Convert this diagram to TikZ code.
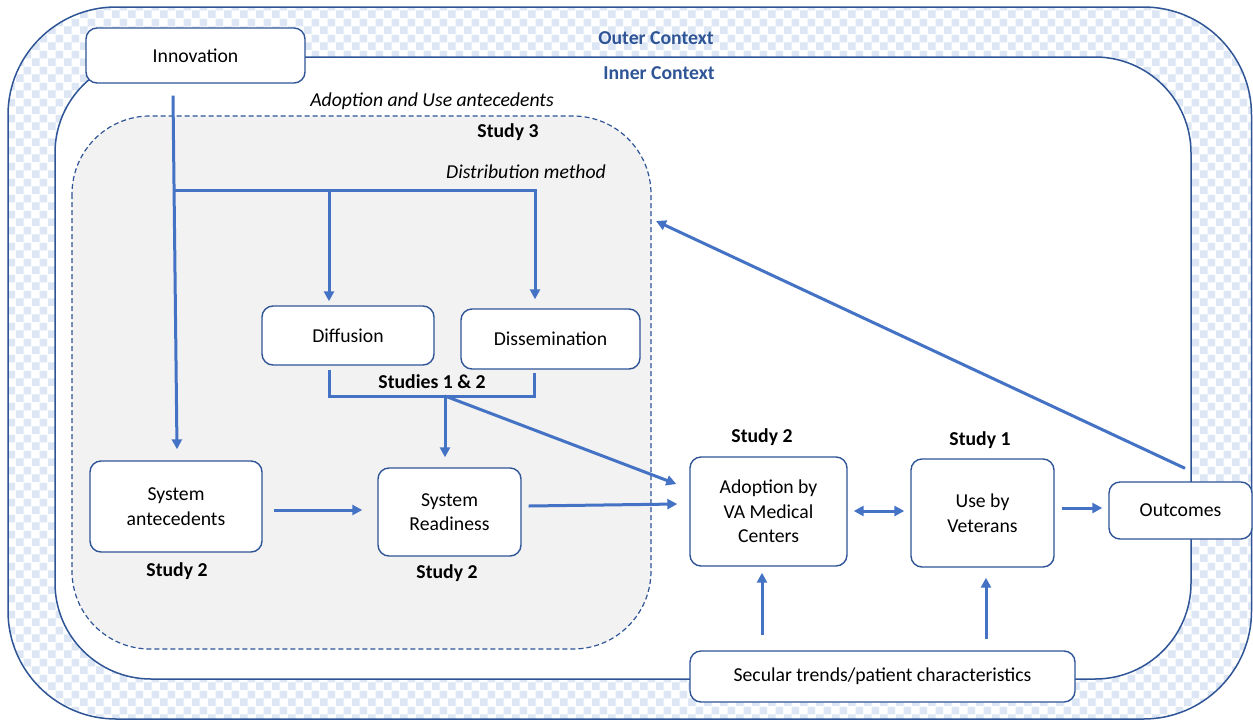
\documentclass[tikz,border=0pt]{standalone}
\usepackage{fontspec}
\setmainfont{Carlito}
\usetikzlibrary{arrows.meta,patterns.meta}
\definecolor{lineblue}{HTML}{4472C4}
\definecolor{boxblue}{HTML}{2F5597}
\definecolor{checkblue}{HTML}{DCE6F4}
\definecolor{grayfill}{HTML}{F2F2F2}
\tikzdeclarepattern{
  name=mychecks,
  type=uncolored,
  bottom left={(0pt,0pt)},
  top right={(16pt,16pt)},
  tile size={(16pt,16pt)},
  code={
    \fill (0pt,0pt) rectangle (8pt,8pt);
    \fill (8pt,8pt) rectangle (16pt,16pt);
  }
}
\begin{document}
\begin{tikzpicture}[x=1pt,y=-1pt,
  font=\fontsize{19.7}{24.5}\selectfont,
  box/.style={draw=boxblue, line width=1.4pt, fill=white, rounded corners=11pt, align=center, inner sep=0pt},
  conn/.style={draw=lineblue, line width=3pt},
  arr/.style={conn, -{Triangle[length=10pt,width=10pt]}},
  darr/.style={conn, {Triangle[length=10pt,width=10pt]}-{Triangle[length=10pt,width=10pt]}},
  lbl/.style={font=\fontsize{19.7}{24.5}\selectfont\bfseries, inner sep=0pt},
  ilbl/.style={font=\fontsize{19.7}{24.5}\selectfont\itshape, inner sep=0pt},
  ctx/.style={font=\fontsize{19.7}{24.5}\selectfont\bfseries, text=boxblue, inner sep=0pt}
]
\useasboundingbox (0,0) rectangle (1253,721);
\fill[white] (0,0) rectangle (1253,721);
% outer context
\fill[white, rounded corners=108pt] (8,7) rectangle (1251.5,719);
\fill[pattern=mychecks, pattern color=checkblue, rounded corners=108pt] (8,7) rectangle (1251.5,719);
\draw[boxblue, line width=1.5pt, rounded corners=108pt] (8,7) rectangle (1251.5,719);
% inner context
\filldraw[fill=white, draw=boxblue, line width=1.5pt, rounded corners=96pt] (55,57) rectangle (1191,679);
% study 3 region
\filldraw[fill=grayfill, draw=boxblue, line width=1.2pt, dash pattern=on 5pt off 3pt, rounded corners=78pt] (72,116) rectangle (651,649);

% labels
\node[ctx] (outerlbl) at (656,38) {Outer Context};
\node[ctx] (innerlbl) at (659,73) {Inner Context};
\node[ilbl] (adlbl) at (432,101) {Adoption and Use antecedents};
\node[lbl] (s3) at (508,132) {Study 3};
\node[ilbl] (distlbl) at (526,172) {Distribution method};

% boxes
\node[box, minimum width=219pt, minimum height=55pt] (inno) at (195.5,55.5) {Innovation};
\node[box, minimum width=172pt, minimum height=59pt] (diff) at (348,335.5) {Diffusion};
\node[box, minimum width=179pt, minimum height=60pt] (diss) at (550.5,339) {Dissemination};
\node[box, minimum width=172pt, minimum height=91pt] (sysant) at (176,506.5) {System\\antecedents};
\node[box, minimum width=143pt, minimum height=88pt] (sysread) at (449.5,512) {System\\Readiness};
\node[box, minimum width=157pt, minimum height=109pt] (adopt) at (768.5,511.5) {Adoption by\\VA Medical\\Centers};
\node[box, minimum width=143pt, minimum height=108pt] (use) at (982.5,513) {Use by\\Veterans};
\node[box, minimum width=143pt, minimum height=57pt] (outc) at (1180.5,510.5) {Outcomes};
\node[box, minimum width=385pt, minimum height=51pt] (sec) at (882.5,676.5) {Secular trends/patient characteristics};

% study labels
\node[lbl] (st2a) at (177,571) {Study 2};
\node[lbl] (st2b) at (447,573) {Study 2};
\node[lbl] (st2c) at (762,437) {Study 2};
\node[lbl] (st1) at (980,440) {Study 1};
\node[lbl] (st12) at (432,382) {Studies 1 \& 2};

% innovation trunk
\coordinate (innoOut) at ([shift={(-22.5,12)}]inno.south);
\coordinate (br0) at (174,190);
\coordinate (br1) at (329,190);
\coordinate (br2) at (535,190);
\draw[arr] (innoOut) -- ([shift={(1,-11)}]sysant.north);
\draw[arr] (br0) -- (br2) -- ([shift={(-15.5,-9)}]diss.north);
\draw[arr] (br1) -- ([shift={(-19,-4)}]diff.north);

% bracket
\coordinate (bk1) at (329,370);
\coordinate (bk2) at (329,396);
\coordinate (bk3) at (534,396);
\coordinate (bk4) at (534,373);
\coordinate (junc) at (445,396);
\draw[conn, line join=miter] (bk1) -- (bk2) -- (bk3) -- (bk4);
\draw[arr] (junc) -- ([shift={(-4.5,-10)}]sysread.north);
\draw[arr] (junc) -- ([shift={(-13,-27.5)}]adopt.west);

% main flow
\draw[arr] ([shift={(11,3.5)}]sysant.east) -- ([shift={(-15,-2)}]sysread.west);
\draw[arr] ([shift={(7,-6)}]sysread.east) -- ([shift={(-12,-7.5)}]adopt.west);
\draw[darr] ([shift={(6,-0.5)}]adopt.east) -- ([shift={(-6,-2)}]use.west);
\draw[arr] ([shift={(7,-5)}]use.east) -- ([shift={(-6,-2.5)}]outc.west);
\draw[arr] ([shift={(-120.5,-15)}]sec.north) -- ([shift={(-6.5,6)}]adopt.south);
\draw[arr] ([shift={(103.5,-11)}]sec.north) -- ([shift={(3.5,10)}]use.south);
\draw[arr] ([shift={(4.5,-13)}]outc.north) -- (656,221) coordinate (s3in);
\end{tikzpicture}
\end{document}
